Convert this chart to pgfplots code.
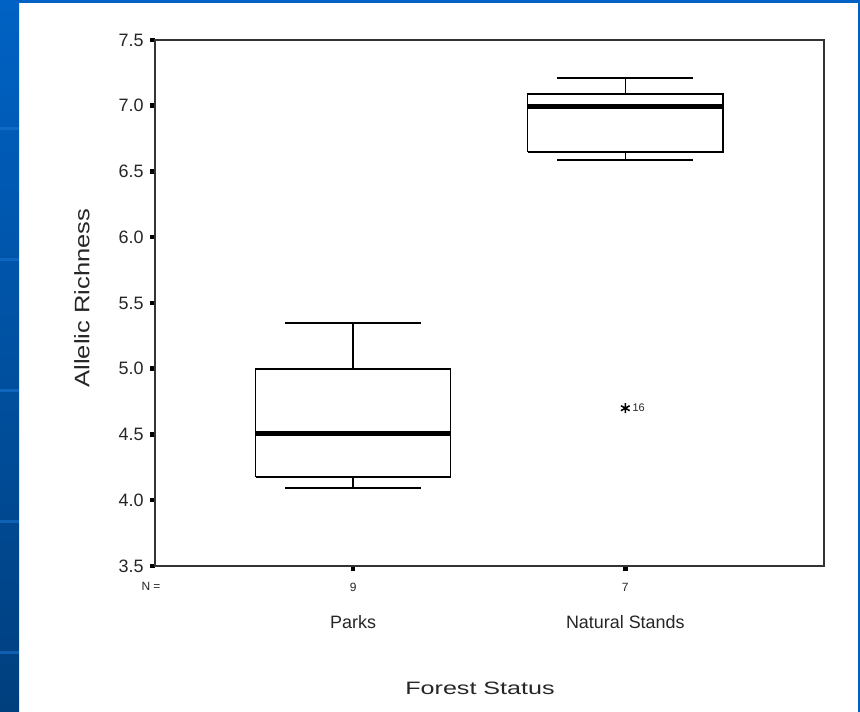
\documentclass[border=0pt]{standalone}
\usepackage{fontspec}
\setmainfont{Liberation Sans}
\usepackage{pgfplots}
\pgfplotsset{compat=1.18}
\definecolor{slideblueA}{HTML}{0062C4}
\definecolor{slideblueB}{HTML}{003F7E}
\definecolor{blueline}{HTML}{1A72D0}
\definecolor{axgray}{HTML}{333333}
\begin{document}
\begin{tikzpicture}
\fill[white] (0bp,0bp) rectangle (860bp,712bp);
\shade[top color=slideblueA,bottom color=slideblueB] (0bp,0bp) rectangle (19bp,712bp);
\foreach \yy in {129,260,391,522,653} {\fill[blueline,opacity=0.6] (0bp,{(712-\yy-1.5)*1bp}) rectangle (19bp,{(712-\yy+1.5)*1bp});}
\fill[slideblueA] (0bp,709bp) rectangle (860bp,712bp);
\fill[slideblueA] (858bp,0bp) rectangle (860bp,712bp);
\begin{axis}[
  at={(155bp,146bp)}, anchor=south west,
  scale only axis, width=669bp, height=526bp,
  xmin=0.272, xmax=2.73, ymin=3.5, ymax=7.5,
  axis line style={draw=axgray, line width=1.5bp},
  ytick={3.5,4.0,4.5,5.0,5.5,6.0,6.5,7.0,7.5},
  xtick={1,2}, xticklabels={9,7},
  xtick pos=bottom, ytick pos=left,
  tick align=outside,
  major tick length=5bp,
  every tick/.style={black, line width=4.5bp},
  /pgf/number format/assume math mode=true,
  yticklabel style={/pgf/number format/fixed, /pgf/number format/fixed zerofill, /pgf/number format/precision=1,
     font=\fontsize{18}{18}\selectfont, text=black!85, xshift=-3bp},
  xticklabel style={font=\fontsize{12}{12}\selectfont, text=black!85, yshift=-9bp},
  clip=false,
  boxline/.style={black, line width=1.5bp, mark=none, line join=miter},
]
% Parks: lower whisker 4.093, Q1 4.177, median 4.511, Q3 4.998, upper whisker 5.348
\addplot[boxline, fill=white] coordinates {(0.6415,4.177) (1.3585,4.177) (1.3585,4.998) (0.6415,4.998) (0.6415,4.177)};
\addplot[boxline] coordinates {(1,4.998) (1,5.348)};
\addplot[boxline] coordinates {(0.75,5.348) (1.25,5.348)};
\addplot[boxline] coordinates {(1,4.177) (1,4.093)};
\addplot[boxline] coordinates {(0.75,4.093) (1.25,4.093)};
\addplot[boxline, line width=5bp] coordinates {(0.6415,4.511) (1.3585,4.511)};
% Natural Stands: lower whisker 6.587, Q1 6.648, median 6.998, Q3 7.089, upper whisker 7.211
\addplot[boxline, fill=white] coordinates {(1.6415,6.648) (2.3585,6.648) (2.3585,7.089) (1.6415,7.089) (1.6415,6.648)};
\addplot[boxline] coordinates {(2,7.089) (2,7.211)};
\addplot[boxline] coordinates {(1.75,7.211) (2.25,7.211)};
\addplot[boxline] coordinates {(2,6.648) (2,6.587)};
\addplot[boxline] coordinates {(1.75,6.587) (2.25,6.587)};
\addplot[boxline, line width=5bp] coordinates {(1.6415,6.998) (2.3585,6.998)};
% extreme value (case 16)
\addplot[only marks, mark=asterisk, mark size=5bp, mark options={black, line width=1.5bp}] coordinates {(2,4.70)};
\node[anchor=west, font=\fontsize{11}{11}\selectfont, text=black!85, inner sep=0pt] at (axis cs:2,4.70) [xshift=7bp] {16};
\node[font=\fontsize{18}{18}\selectfont, text=black!85] at (axis cs:1,3.5) [yshift=-56bp] {Parks};
\node[font=\fontsize{18}{18}\selectfont, text=black!85] at (axis cs:2,3.5) [yshift=-56bp] {Natural Stands};
\node[font=\fontsize{12}{12}\selectfont, text=black!85] at (axis cs:0.272,3.5) [xshift=-4bp, yshift=-20bp] {N =};
\end{axis}
\node[rotate=90, text=black!85] at (82bp,414bp) {\scalebox{1.22}[1]{\fontsize{21}{21}\selectfont Allelic Richness}};
\node[text=black!85] at (480bp,24bp) {\scalebox{1.4}[1]{\fontsize{18}{18}\selectfont Forest Status}};
\pgfresetboundingbox
\path[use as bounding box] (0bp,0bp) rectangle (860bp,712bp);
\end{tikzpicture}
\end{document}
